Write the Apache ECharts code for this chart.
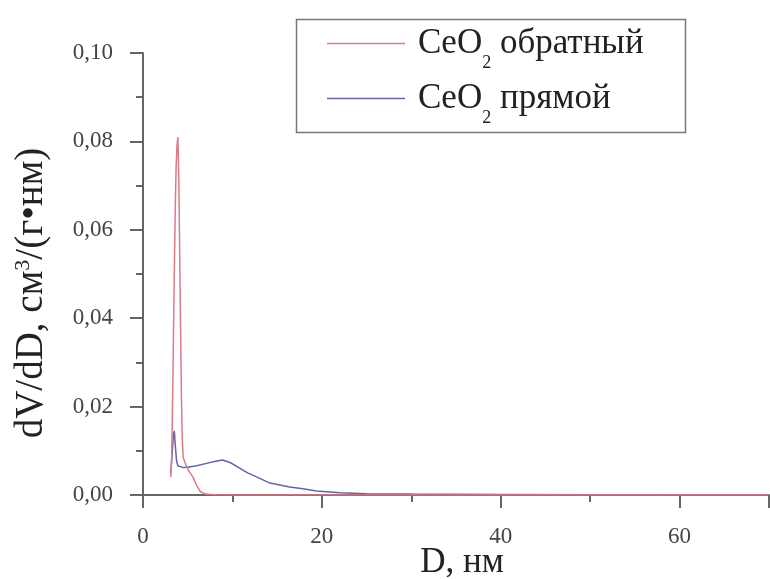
<!DOCTYPE html>
<html>
<head>
<meta charset="utf-8">
<script src="https://cdn.jsdelivr.net/npm/echarts@6/dist/echarts.min.js"></script>
<style>html,body{margin:0;padding:0;background:#fff}#c{width:770px;height:579px}</style>
</head>
<body>
<div id="c"></div>
<script>
// ---- data ----
const seriesNames = ['CeO2 обратный', 'CeO2 прямой'];
const xTickLabels = ['0', '20', '40', '60'];
const yTickLabels = ['0,00', '0,02', '0,04', '0,06', '0,08', '0,10'];
// CeO2 обратный: [D, dV/dD]
const reverseData = [
  [3.1, 0.004], [3.2, 0.008], [3.3, 0.02], [3.4, 0.035], [3.5, 0.05], [3.6, 0.064],
  [3.7, 0.074], [3.8, 0.079], [3.9, 0.081], [4.0, 0.072], [4.1, 0.055], [4.2, 0.038],
  [4.3, 0.022], [4.4, 0.012], [4.5, 0.0085], [4.8, 0.0068], [5.1, 0.0055], [5.6, 0.0040],
  [6.0, 0.0022], [6.4, 0.0008], [7.0, 0.0002], [8.0, 0.00005], [10, 0], [20, 0],
  [30, 0], [40, 0], [50, 0], [60, 0], [70, 0]
];
// CeO2 прямой: [D, dV/dD]
const directData = [
  [3.1, 0.005], [3.25, 0.009], [3.4, 0.0135], [3.5, 0.0145], [3.6, 0.0115], [3.75, 0.0078],
  [3.9, 0.0066], [4.1, 0.0062], [4.5, 0.0062], [5.0, 0.0063], [6.0, 0.0066], [7.0, 0.0071],
  [8.0, 0.0076], [8.9, 0.0079], [9.8, 0.0073], [10.8, 0.0061], [11.7, 0.0050], [12.7, 0.0041],
  [14.2, 0.0027], [16.4, 0.0018], [17.9, 0.0014], [19.4, 0.0009], [22, 0.0005], [25, 0.0003],
  [30, 0.0002], [35, 0.00015], [40, 0.0001], [50, 0.00005], [60, 0.00002], [70, 0]
];

const serif = '"Liberation Serif", "DejaVu Serif", serif';
const axisColor = '#666';
const chart = echarts.init(document.getElementById('c'));

function legendFmt(name) {
  const parts = name.split('2');
  return '{a|' + parts[0] + '}{s|2}{a|' + parts[1] + '}';
}

chart.setOption({
  backgroundColor: '#fff',
  animation: false,
  grid: { left: 143, right: 1, top: 53, bottom: 84, containLabel: false, outerBoundsMode: 'none' },
  graphic: [{
    type: 'rect', left: 294, top: 17, z: 10,
    shape: { width: 389, height: 113 },
    style: { fill: 'none', stroke: '#777', lineWidth: 1.5 }
  }],
  legend: {
    orient: 'vertical', left: 322, top: 21, itemGap: 9,
    icon: 'rect', itemWidth: 78, itemHeight: 1.5,
    data: seriesNames,
    formatter: legendFmt,
    textStyle: {
      padding: [0, 0, 0, 8],
      rich: {
        a: { fontFamily: serif, fontSize: 35, color: '#222', verticalAlign: 'middle' },
        s: { fontFamily: serif, fontSize: 18, color: '#222', verticalAlign: 'bottom', padding: [39, 0, 0, 0] }
      }
    }
  },
  xAxis: [{
    type: 'value', min: 0, max: 70, interval: 10,
    axisLine: { show: true, onZero: false, lineStyle: { color: axisColor, width: 2 } },
    axisTick: { show: true, length: 7, lineStyle: { color: axisColor, width: 2 } },
    axisLabel: { show: false },
    splitLine: { show: false }
  }, {
    type: 'value', min: 0, max: 70, interval: 20, position: 'bottom',
    name: 'D, нм', nameLocation: 'middle', nameGap: 50, nameMoveOverlap: false,
    nameTextStyle: { fontFamily: serif, fontSize: 35, color: '#222', padding: [0, 0, 0, 12] },
    axisLine: { show: false, onZero: false },
    axisTick: { show: true, length: 13, lineStyle: { color: axisColor, width: 2 } },
    axisLabel: {
      margin: 30, fontFamily: serif, fontSize: 23, color: '#444',
      formatter: function (v) { const i = xTickLabels.indexOf(String(v)); return i >= 0 ? xTickLabels[i] : ''; }
    },
    splitLine: { show: false }
  }],
  yAxis: {
    type: 'value', min: 0, max: 0.1, interval: 0.02,
    name: 'dV/dD, см{sup|3}/(г•нм)', nameLocation: 'middle', nameGap: 92, nameMoveOverlap: false,
    nameTextStyle: {
      fontFamily: serif, fontSize: 39, color: '#222', padding: [0, 0, 0, -38],
      rich: { sup: { fontFamily: serif, fontSize: 22, color: '#222', verticalAlign: 'top', padding: [0, 0, 16, 0] } }
    },
    axisLine: { show: true, lineStyle: { color: axisColor, width: 2 } },
    axisTick: { show: true, length: 13, lineStyle: { color: axisColor, width: 2 } },
    minorTick: { show: true, splitNumber: 2, length: 7, lineStyle: { color: axisColor, width: 2 } },
    axisLabel: {
      margin: 30, fontFamily: serif, fontSize: 23, color: '#444',
      formatter: function (v) { return yTickLabels[Math.round(v / 0.02)]; }
    },
    splitLine: { show: false }
  },
  series: [{
    name: seriesNames[0], type: 'line', data: reverseData, showSymbol: false,
    lineStyle: { color: '#dc7a87', width: 1.5 }, itemStyle: { color: '#dc7a87' }, z: 3
  }, {
    name: seriesNames[1], type: 'line', data: directData, showSymbol: false,
    lineStyle: { color: '#6464a8', width: 1.5 }, itemStyle: { color: '#6464a8' }, z: 2
  }]
});
</script>
</body>
</html>
